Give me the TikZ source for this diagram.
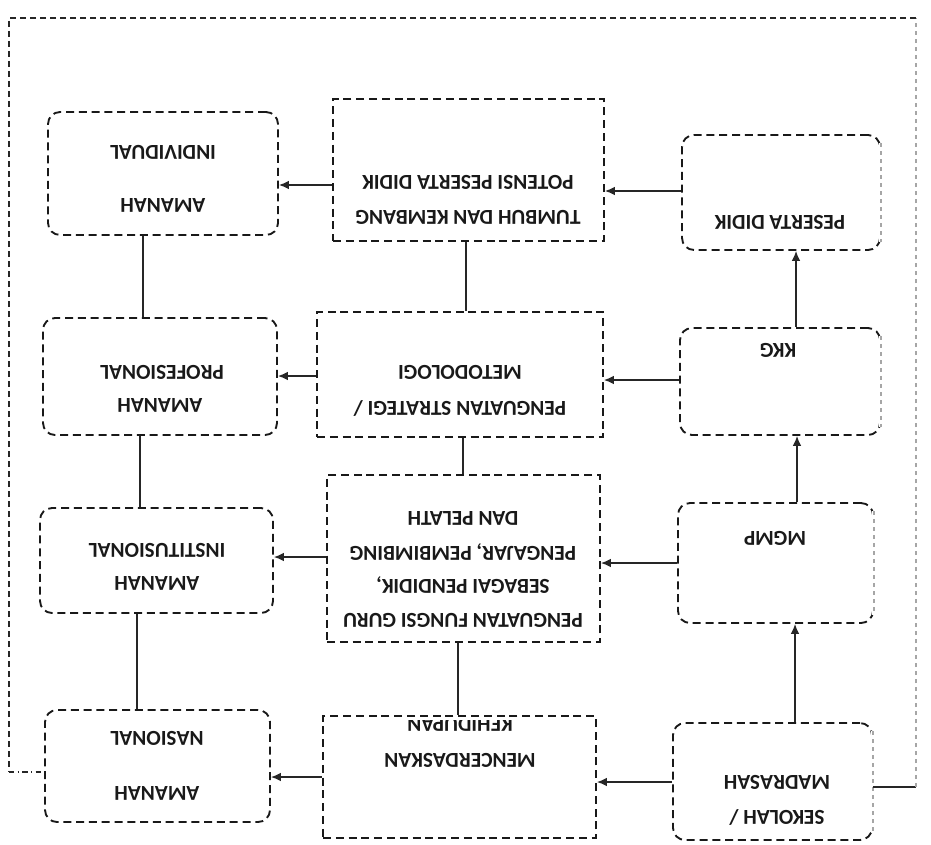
\documentclass[tikz,border=0pt]{standalone}
\usepackage{fontspec}
\setmainfont{Carlito}
\usetikzlibrary{arrows.meta,fit}
\begin{document}
\begin{tikzpicture}[x=0.75pt,y=-0.75pt,
  boxdash/.style={draw=black!90, line width=1.4pt, dash pattern=on 6pt off 3.6pt},
  sqbox/.style={boxdash, rectangle, inner sep=0pt},
  rbox/.style={boxdash, rectangle, rounded corners=9pt, inner sep=0pt},
  lbl/.style={rotate=180, font=\bfseries\fontsize{16}{18}\selectfont, text=black!90, inner sep=0pt},
  conn/.style={draw=black!85, line width=1.05pt},
  arr/.style={conn, -{Latex[length=7.5pt,width=6.5pt]}},
  framedash/.style={draw=black!85, line width=1.05pt, dash pattern=on 4.5pt off 3pt},
  fadeedge/.style={draw=black!35, line width=1.8pt, dash pattern=on 3pt off 3pt}]
\useasboundingbox[fill=white] (0,0) rectangle (931,845);

% left column (rounded)
\node[rbox, fit={(48,112) (278,235)}] (indiv) {};
\node[rbox, fit={(43,318) (277,435)}] (prof) {};
\node[rbox, fit={(40,508) (273,613)}] (inst) {};
\node[rbox, fit={(45,710) (270,822)}] (nas) {};
% middle column (square)
\node[sqbox, fit={(333,99) (604,241)}] (tumbuh) {};
\node[sqbox, fit={(317,312) (603,437)}] (metod) {};
\node[sqbox, fit={(327,475) (600,642)}] (fungsi) {};
\node[sqbox, fit={(323,716) (596,838)}] (cerdas) {};
% right column (rounded)
\node[rbox, fit={(682,135) (880,250)}] (peserta) {};
\node[rbox, fit={(680,328) (880,435)}] (kkg) {};
\node[rbox, fit={(678,503) (873,623)}] (mgmp) {};
\node[rbox, fit={(673,723) (872,840)}] (sekolah) {};

% faded right edges of right column boxes
\foreach \n in {peserta,kkg,mgmp,sekolah}{
  \draw[white, line width=2.6pt] ([yshift=-7pt]\n.north east) -- ([yshift=7pt]\n.south east);
  \draw[fadeedge] ([yshift=-7pt]\n.north east) -- ([yshift=7pt]\n.south east);
}

% labels
\node[lbl] (t1a) at (163,152) {INDIVIDUAL};
\node[lbl] (t1b) at (163,205) {AMANAH};
\node[lbl] (t2a) at (162,372) {PROFESIONAL};
\node[lbl] (t2b) at (160,405) {AMANAH};
\node[lbl] (t3a) at (157,550) {INSTITUSIONAL};
\node[lbl] (t3b) at (157,583) {AMANAH};
\node[lbl] (t4a) at (157,738) {NASIONAL};
\node[lbl] (t4b) at (157,793) {AMANAH};

\node[lbl] (m1a) at (468,182) {POTENSI PESERTA DIDIK};
\node[lbl] (m1b) at (468,217) {TUMBUH DAN KEMBANG};
\node[lbl] (m2a) at (460,372) {METODOLOGI};
\node[lbl] (m2b) at (460,408) {PENGUATAN STRATEGI /};
\node[lbl] (m3a) at (463,518) {DAN PELATH};
\node[lbl] (m3b) at (463,552) {PENGAJAR, PEMBIMBING};
\node[lbl] (m3c) at (463,585) {SEBAGAI PENDIDIK,};
\node[lbl] (m3d) at (463,620) {PENGUATAN FUNGSI GURU};
\node[lbl] (m4a) at (460,760) {MENCERDASKAN};
\begin{scope}
  \clip (323,720) rectangle (596,838);
  \node[lbl] (m4b) at (460,724) {KEHIDUPAN};
\end{scope}

\node[lbl] (r1) at (780,222) {PESERTA DIDIK};
\node[lbl] (r2) at (778,350) {KKG};
\node[lbl] (r3) at (775,538) {MGMP};
\node[lbl] (r4a) at (777,782) {MADRASAH};
\node[lbl] (r4b) at (777,817) {SEKOLAH /};

% horizontal arrows
\draw[arr] (tumbuh.west |- 0,185) -- (indiv.east |- 0,185);
\draw[arr] (metod.west |- 0,376) -- (prof.east |- 0,376);
\draw[arr] (fungsi.west |- 0,557) -- (inst.east |- 0,557);
\draw[arr] (cerdas.west |- 0,777) -- (nas.east |- 0,777);
\draw[arr] (peserta.west |- 0,191) -- (tumbuh.east |- 0,191);
\draw[arr] (kkg.west |- 0,380) -- (metod.east |- 0,380);
\draw[arr] (mgmp.west |- 0,563) -- (fungsi.east |- 0,563);
\draw[arr] (sekolah.west |- 0,782) -- (cerdas.east |- 0,782);

% vertical arrows (upwards)
\draw[arr] (sekolah.north -| 795,0) -- (mgmp.south -| 795,0);
\draw[arr] (mgmp.north -| 797,0) -- (kkg.south -| 797,0);
\draw[arr] (kkg.north -| 796,0) -- (peserta.south -| 796,0);

% vertical plain lines
\draw[conn] (indiv.south -| 143,0) -- (prof.north -| 143,0);
\draw[conn] (prof.south -| 140,0) -- (inst.north -| 140,0);
\draw[conn] (inst.south -| 137,0) -- (nas.north -| 137,0);
\draw[conn] (tumbuh.south -| 466,0) -- (metod.north -| 466,0);
\draw[conn] (metod.south -| 463,0) -- (fungsi.north -| 463,0);
\draw[conn] (fungsi.south -| 458,0) -- (cerdas.north -| 458,0);

% outer frame
\coordinate (fr1) at (916,787);
\coordinate (fr2) at (916,18);
\coordinate (fl1) at (9,18);
\coordinate (fl2) at (9,772);
\draw[conn] (sekolah.east |- 0,787) -- (fr1);
\draw[fadeedge] (fr1) -- (fr2);
\draw[framedash] (fr2) -- (fl1) -- (fl2);
\draw[framedash, dash pattern=on 4pt off 2.5pt on 1pt off 2.5pt] (fl2) -- (nas.west |- 0,772);
\end{tikzpicture}
\end{document}
